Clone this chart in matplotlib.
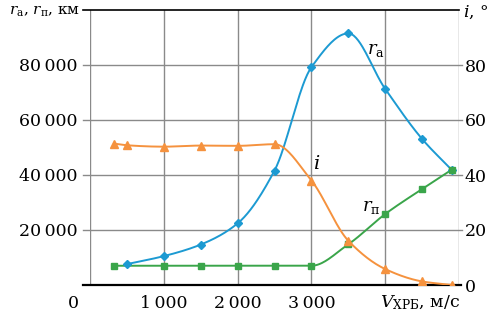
import numpy as np
import matplotlib
matplotlib.use("Agg")
import matplotlib.pyplot as plt

# ---- data ----
v_ra = [500, 1000, 1500, 2000, 2500, 3000, 3500, 4000, 4500, 4900]
r_a = [7600, 10500, 14700, 22400, 41600, 79200, 91500, 71300, 53100, 41900]

v_rp = [330, 1000, 1500, 2000, 2500, 3000, 3500, 4000, 4500, 4900]
r_p = [7000, 7000, 7000, 7000, 7000, 7000, 14800, 25800, 34900, 41900]

v_i = [330, 500, 1000, 1500, 2000, 2500, 3000, 3500, 4000, 4500, 4900]
incl = [51.4, 50.8, 50.3, 50.7, 50.6, 51.2, 38.0, 16.1, 5.8, 1.3, 0.0]

x_ticks = [1000, 2000, 3000]
x_ticklabels = ["1\u2009000", "2\u2009000", "3\u2009000"]
y_ticks = [20000, 40000, 60000, 80000]
y_ticklabels = ["20\u2009000", "40\u2009000", "60\u2009000", "80\u2009000"]
i_ticks = [0, 20, 40, 60, 80]
i_ticklabels = ["0", "20", "40", "60", "80"]

BLUE = "#1c9ad2"
ORANGE = "#f5923e"
GREEN = "#3aa54a"
GRID = "#8a8a8a"


def pchip(x, y, n=300):
    x = np.asarray(x, float)
    y = np.asarray(y, float)
    h = np.diff(x)
    d = np.diff(y) / h
    m = np.zeros_like(y)
    for k in range(1, len(x) - 1):
        if d[k - 1] * d[k] <= 0:
            m[k] = 0.0
        else:
            w1 = 2 * h[k] + h[k - 1]
            w2 = h[k] + 2 * h[k - 1]
            m[k] = (w1 + w2) / (w1 / d[k - 1] + w2 / d[k])
    m[0] = d[0]
    m[-1] = d[-1]
    xs = np.linspace(x[0], x[-1], n)
    idx = np.clip(np.searchsorted(x, xs) - 1, 0, len(x) - 2)
    t = (xs - x[idx]) / h[idx]
    h00 = 2 * t**3 - 3 * t**2 + 1
    h10 = t**3 - 2 * t**2 + t
    h01 = -2 * t**3 + 3 * t**2
    h11 = t**3 - t**2
    ys = h00 * y[idx] + h10 * h[idx] * m[idx] + h01 * y[idx + 1] + h11 * h[idx] * m[idx + 1]
    return xs, ys


plt.rcParams["font.family"] = ["DejaVu Serif"]
plt.rcParams["mathtext.fontset"] = "dejavuserif"

fig = plt.figure(figsize=(4.93, 3.26), dpi=100)
W, H = 493, 326
x0, x1, ytop, ybot = 90, 459, 10, 285
ax = fig.add_axes([x0 / W, 1 - ybot / H, (x1 - x0) / W, (ybot - ytop) / H])
ax.set_xlim(0, 5000)
ax.set_ylim(0, 100000)

ax2 = ax.twinx()
ax2.set_ylim(0, 100)

for a in (ax, ax2):
    for s in a.spines.values():
        s.set_visible(False)

# grid
for xv in [0, 1000, 2000, 3000, 4000, 5000]:
    ax.axvline(xv, color=GRID, lw=1.0, zorder=1)
for yv in [20000, 40000, 60000, 80000]:
    ax.plot([-0.02, 1.008], [yv / 100000] * 2, transform=ax.transAxes, color=GRID,
            lw=1.0, clip_on=False, zorder=1)
ax.plot([-0.02, 1.0], [1, 1], transform=ax.transAxes, color="black", lw=1.2,
        clip_on=False, zorder=2)
ax.plot([-0.02, 1.005], [0, 0], transform=ax.transAxes, color="black", lw=1.6,
        clip_on=False, zorder=2)

# curves
xs, ys = pchip(v_ra, r_a)
ax.plot(xs, ys, color=BLUE, lw=1.4, zorder=3)
ax.plot(v_ra, r_a, ls="none", marker="D", ms=4.2, color=BLUE, zorder=4)

xs, ys = pchip(v_rp, r_p)
ax.plot(xs, ys, color=GREEN, lw=1.4, zorder=3)
ax.plot(v_rp, r_p, ls="none", marker="s", ms=4.2, color=GREEN, zorder=4)

xs, ys = pchip(v_i, incl)
ax2.plot(xs, ys, color=ORANGE, lw=1.4, zorder=3)
ax2.plot(v_i, incl, ls="none", marker="^", ms=5.2, color=ORANGE, zorder=4)

# ticks
ax.set_xticks(x_ticks)
ax.set_xticklabels(x_ticklabels)
ax.set_yticks(y_ticks)
ax.set_yticklabels(y_ticklabels)
ax2.set_yticks(i_ticks)
ax2.set_yticklabels(i_ticklabels)
ax.tick_params(axis="x", length=0, pad=7, labelsize=12.5)
ax.tick_params(axis="y", length=0, pad=9, labelsize=12.5)
ax2.tick_params(axis="y", length=0, pad=4, labelsize=12.5)

# origin and axis titles
fig.text(73 / W, 1 - 303 / H, "0", ha="center", va="center", fontsize=12.5)
fig.text(80 / W, 1 - 12 / H, r"$r_{\mathrm{а}}$, $r_{\mathrm{п}}$, км",
         ha="right", va="center", fontsize=11)
fig.text(463 / W, 1 - 12 / H, r"$i$, °", ha="left", va="center", fontsize=12.5)
fig.text(460 / W, 1 - 303 / H, r"$V_{\mathrm{ХРБ}}$, м/с", ha="right",
         va="center", fontsize=12.5)

# curve labels
ax.text(3750, 85500, r"$r_{\mathrm{а}}$", fontsize=13, ha="left", va="center")
ax2.text(3020, 44, r"$i$", fontsize=14, ha="left", va="center")
ax.text(3680, 28500, r"$r_{\mathrm{п}}$", fontsize=13, ha="left", va="center")

fig.savefig("out.png", dpi=100)
